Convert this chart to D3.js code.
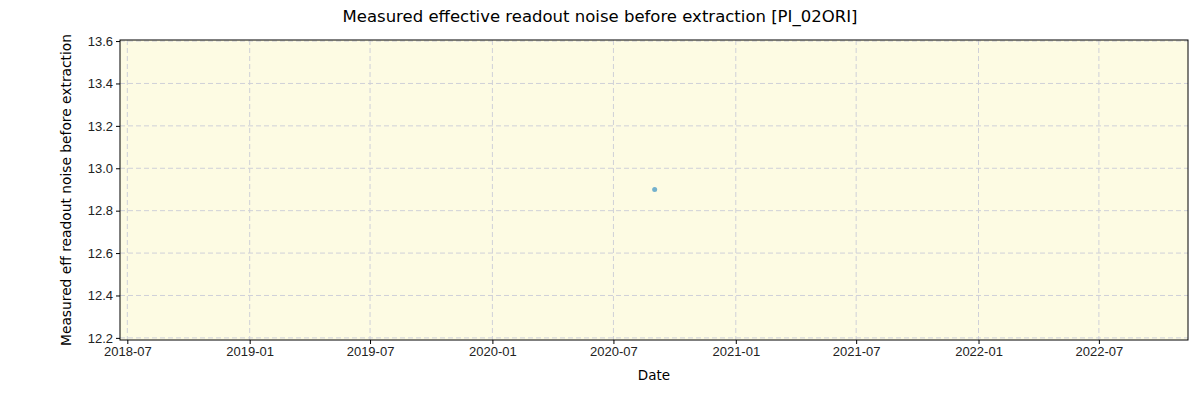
<!DOCTYPE html>
<html><head><meta charset="utf-8">
<script src="https://cdn.jsdelivr.net/npm/d3@7"></script>
<style>body{margin:0;background:#fff}svg{font-family:"DejaVu Sans",sans-serif}</style>
</head><body><svg id="chart"></svg>
<script>
const dates = ["2020-09-01"];
const values = [12.9];
const yTicks = [12.2, 12.4, 12.6, 12.8, 13.0, 13.2, 13.4, 13.6];
const xTicks = ["2018-07","2019-01","2019-07","2020-01","2020-07","2021-01","2021-07","2022-01","2022-07"];

const W = 1200, H = 400, m = {top: 40, right: 12, bottom: 60, left: 120};
const parse = d3.timeParse("%Y-%m-%d");
const svg = d3.select("#chart").attr("width", W).attr("height", H);

const x = d3.scaleTime()
  .domain([parse("2018-06-20"), parse("2022-11-12")])
  .range([m.left, W - m.right]);
const y = d3.scaleLinear()
  .domain([12.19, 13.605])
  .range([H - m.bottom, m.top]);

svg.append("rect").attr("x", m.left).attr("y", m.top)
  .attr("width", W - m.left - m.right).attr("height", H - m.top - m.bottom)
  .attr("fill", "#fdfbe3");

const tickDates = xTicks.map(t => parse(t + "-01"));
svg.append("g").selectAll("line").data(tickDates).join("line")
  .attr("x1", d => x(d)).attr("x2", d => x(d))
  .attr("y1", m.top).attr("y2", H - m.bottom)
  .attr("stroke", "#cfd0d8").attr("stroke-dasharray", "5,3");
svg.append("g").selectAll("line").data(yTicks).join("line")
  .attr("x1", m.left).attr("x2", W - m.right)
  .attr("y1", d => y(d)).attr("y2", d => y(d))
  .attr("stroke", "#cfd0d8").attr("stroke-dasharray", "5,3");

svg.append("g").attr("transform", `translate(0,${H - m.bottom})`)
  .call(d3.axisBottom(x).tickValues(tickDates).tickFormat(d3.timeFormat("%Y-%m")).tickSize(4).tickSizeOuter(0))
  .call(g => g.select(".domain").remove())
  .selectAll("text").attr("font-size", 13).attr("fill", "#222");
svg.append("g").attr("transform", `translate(${m.left},0)`)
  .call(d3.axisLeft(y).tickValues(yTicks).tickFormat(d3.format(".1f")).tickSize(4).tickSizeOuter(0))
  .call(g => g.select(".domain").remove())
  .selectAll("text").attr("font-size", 13).attr("fill", "#222");

svg.append("rect").attr("x", m.left).attr("y", m.top)
  .attr("width", W - m.left - m.right).attr("height", H - m.top - m.bottom)
  .attr("fill", "none").attr("stroke", "#000");

svg.selectAll("circle.pt").data(values).join("circle").attr("class", "pt")
  .attr("cx", (d, i) => x(parse(dates[i]))).attr("cy", d => y(d))
  .attr("r", 2.5).attr("fill", "#5ba3c9").attr("opacity", 0.85);

svg.append("text").attr("x", 600).attr("y", 22).attr("text-anchor", "middle")
  .attr("font-size", 16.5).text("Measured effective readout noise before extraction [PI_02ORI]");
svg.append("text").attr("x", (m.left + W - m.right) / 2).attr("y", 380).attr("text-anchor", "middle")
  .attr("font-size", 13.5).text("Date");
svg.append("text").attr("transform", `translate(71,${(m.top + H - m.bottom) / 2}) rotate(-90)`)
  .attr("text-anchor", "middle").attr("font-size", 13.8)
  .text("Measured eff readout noise before extraction");
</script></body></html>
